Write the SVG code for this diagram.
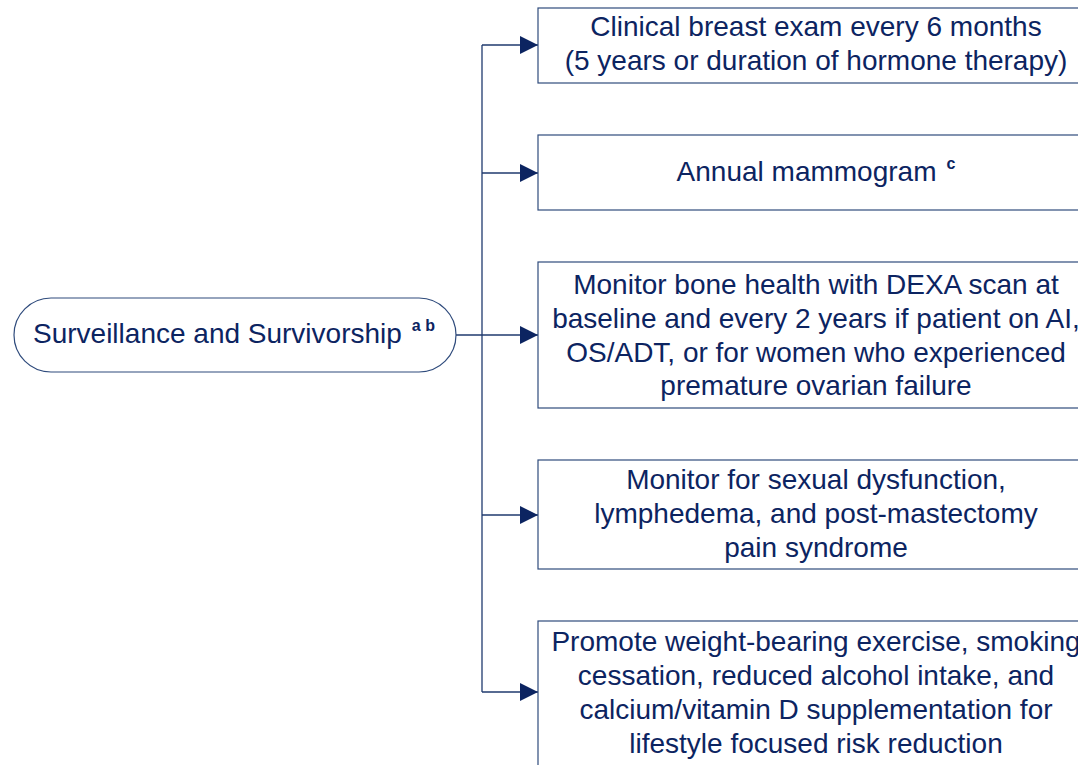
<svg xmlns="http://www.w3.org/2000/svg" width="1078" height="765" viewBox="0 0 1078 765">
<style>
.box{fill:#fff;stroke:#2f4b7c;stroke-width:1.2}
.t{font-family:"Liberation Sans",Arial,sans-serif;font-size:28px;fill:#0c2461;text-anchor:middle}
.sup{font-family:"Liberation Sans",Arial,sans-serif;font-size:16px;font-weight:bold;fill:#0c2461}
.c{fill:none;stroke:#1f3a6e;stroke-width:1.3}
</style>
<defs>
<marker id="ah" markerWidth="18" markerHeight="18" refX="18" refY="9" orient="auto" markerUnits="userSpaceOnUse">
<path d="M0,0 L18,9 L0,18 Z" fill="#0c2461"/>
</marker>
</defs>
<rect width="1078" height="765" fill="#fff"/>
<g id="connectors">
<path class="c" d="M456,335 H538" marker-end="url(#ah)"/>
<path class="c" d="M482,45 V692"/>
<path class="c" d="M482,45 H538" marker-end="url(#ah)"/>
<path class="c" d="M482,173 H538" marker-end="url(#ah)"/>
<path class="c" d="M482,515 H538" marker-end="url(#ah)"/>
<path class="c" d="M482,692 H538" marker-end="url(#ah)"/>
</g>
<g id="start">
<rect class="box" x="14" y="298" width="442" height="74" rx="37" ry="37"/>
<text class="t" x="234" y="343">Surveillance and Survivorship<tspan class="sup" dx="10" dy="-12">a b</tspan></text>
</g>
<g id="n1">
<rect class="box" x="538" y="8" width="560" height="75"/>
<text class="t" x="816" y="36">Clinical breast exam every 6 months</text>
<text class="t" x="816" y="70">(5 years or duration of hormone therapy)</text>
</g>
<g id="n2">
<rect class="box" x="538" y="135" width="560" height="75"/>
<text class="t" x="816" y="181">Annual mammogram<tspan class="sup" dx="10" dy="-12">c</tspan></text>
</g>
<g id="n3">
<rect class="box" x="538" y="262" width="560" height="146"/>
<text class="t" x="816" y="294">Monitor bone health with DEXA scan at</text>
<text class="t" x="816" y="328">baseline and every 2 years if patient on AI,</text>
<text class="t" x="816" y="362">OS/ADT, or for women who experienced</text>
<text class="t" x="816" y="395">premature ovarian failure</text>
</g>
<g id="n4">
<rect class="box" x="538" y="460" width="560" height="109"/>
<text class="t" x="816" y="489">Monitor for sexual dysfunction,</text>
<text class="t" x="816" y="523">lymphedema, and post-mastectomy</text>
<text class="t" x="816" y="557">pain syndrome</text>
</g>
<g id="n5">
<rect class="box" x="538" y="621" width="560" height="160"/>
<text class="t" x="816" y="651">Promote weight-bearing exercise, smoking</text>
<text class="t" x="816" y="685">cessation, reduced alcohol intake, and</text>
<text class="t" x="816" y="719">calcium/vitamin D supplementation for</text>
<text class="t" x="816" y="753">lifestyle focused risk reduction</text>
</g>
</svg>
